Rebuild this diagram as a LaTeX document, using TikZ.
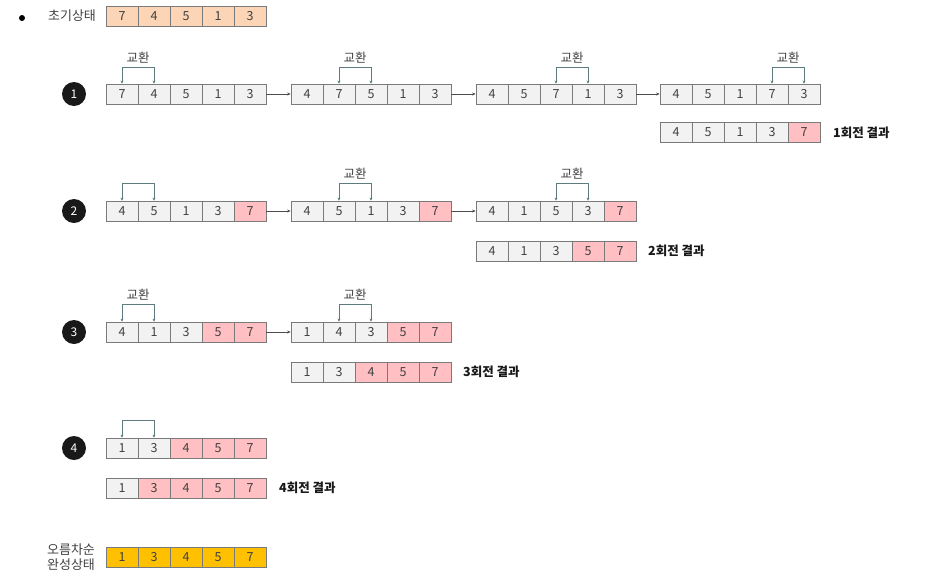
\documentclass[tikz,border=0pt]{standalone}
\usepackage{fontspec}
\setmainfont{Noto Sans CJK KR}
\usetikzlibrary{arrows.meta,calc}
\definecolor{cg}{HTML}{F2F2F2}
\definecolor{cp}{HTML}{FFBFC3}
\definecolor{co}{HTML}{FBD5B5}
\definecolor{cy}{HTML}{FFC000}
\definecolor{cline}{HTML}{7A7A7A}
\definecolor{cswap}{HTML}{5E7C80}
\definecolor{ctext}{HTML}{404040}
\tikzset{
  cell/.style={draw=cline, line width=0.8pt, minimum width=32pt, minimum height=20pt, inner sep=0pt, text=ctext, font=\fontsize{12.5}{14}\selectfont},
  swapline/.style={draw=cswap, line width=0.8pt, {Stealth[length=3pt,width=3pt]}-{Stealth[length=3pt,width=3pt]}},
  swaplabel/.style={text=ctext, font=\fontsize{12.5}{14}\selectfont, inner sep=0pt},
  flow/.style={draw=black!70, line width=0.6pt, -{Stealth[length=3.5pt,width=3pt]}},
  stepnum/.style={circle, fill=black!90, text=white, minimum size=24pt, inner sep=0pt, font=\fontsize{12}{14}\selectfont},
  reslabel/.style={anchor=west, inner sep=0pt, text=black!90, font=\fontsize{12.5}{14}\selectfont\bfseries},
  plainlabel/.style={inner sep=0pt, text=ctext, font=\fontsize{13}{15}\selectfont}
}
\newcommand\mkarr[4]{%
  \foreach \v/\c [count=\i] in {#4} {%
    \node[cell, fill=\c] (#1-\i) at ({#2+16+32*(\i-1)},{#3+10}) {\v};}}
\newcommand\mkswap[4]{% array, i, j, rise
  \draw[swapline] (#1-#2.north) -- ++(0,-#4) -| (#1-#3.north);}
\newcommand\mkswaplab[4]{% array, i, j, rise
  \draw[swapline] (#1-#2.north) -- ++(0,-#4) -| (#1-#3.north);
  \node[swaplabel] (#1-lab) at ($(#1-#2.north)!0.5!(#1-#3.north)+(0,-#4-10)$) {교환};}
\begin{document}
\begin{tikzpicture}[x=1pt,y=-1pt]
\useasboundingbox (0,0) rectangle (942,584);
% initial
\node[circle, fill=black, inner sep=0pt, minimum size=6pt] (bullet) at (22,18) {};
\node[plainlabel] (initlab) at (72,16) {초기상태};
\mkarr{ini}{106}{6}{7/co,4/co,5/co,1/co,3/co}
% row 1
\node[stepnum] (n1) at (74,94) {1};
\mkarr{a1}{106}{84}{7/cg,4/cg,5/cg,1/cg,3/cg}
\mkarr{b1}{291}{84}{4/cg,7/cg,5/cg,1/cg,3/cg}
\mkarr{c1}{476}{84}{4/cg,5/cg,7/cg,1/cg,3/cg}
\mkarr{d1}{660}{84}{4/cg,5/cg,1/cg,7/cg,3/cg}
\mkarr{r1}{660}{122}{4/cg,5/cg,1/cg,3/cg,7/cp}
\mkswaplab{a1}{1}{2}{16}
\mkswaplab{b1}{2}{3}{16}
\mkswaplab{c1}{3}{4}{16}
\mkswaplab{d1}{4}{5}{16}
\draw[flow] (a1-5.east) -- (b1-1.west);
\draw[flow] (b1-5.east) -- (c1-1.west);
\draw[flow] (c1-5.east) -- (d1-1.west);
\node[reslabel] (l1) at (833,133) {1회전 결과};
% row 2
\node[stepnum] (n2) at (74,211) {2};
\mkarr{a2}{106}{201}{4/cg,5/cg,1/cg,3/cg,7/cp}
\mkarr{b2}{291}{201}{4/cg,5/cg,1/cg,3/cg,7/cp}
\mkarr{c2}{476}{201}{4/cg,1/cg,5/cg,3/cg,7/cp}
\mkarr{r2}{476}{241}{4/cg,1/cg,3/cg,5/cp,7/cp}
\mkswap{a2}{1}{2}{17}
\mkswaplab{b2}{2}{3}{17}
\mkswaplab{c2}{3}{4}{17}
\draw[flow] (a2-5.east) -- (b2-1.west);
\draw[flow] (b2-5.east) -- (c2-1.west);
\node[reslabel] (l2) at (648,251) {2회전 결과};
% row 3
\node[stepnum] (n3) at (74,332) {3};
\mkarr{a3}{106}{322}{4/cg,1/cg,3/cg,5/cp,7/cp}
\mkarr{b3}{291}{322}{1/cg,4/cg,3/cg,5/cp,7/cp}
\mkarr{r3}{291}{362}{1/cg,3/cg,4/cp,5/cp,7/cp}
\mkswaplab{a3}{1}{2}{17}
\mkswaplab{b3}{2}{3}{17}
\draw[flow] (a3-5.east) -- (b3-1.west);
\node[reslabel] (l3) at (463,372) {3회전 결과};
% row 4
\node[stepnum] (n4) at (74,448) {4};
\mkarr{a4}{106}{438}{1/cg,3/cg,4/cp,5/cp,7/cp}
\mkarr{r4}{106}{478}{1/cg,3/cp,4/cp,5/cp,7/cp}
\mkswap{a4}{1}{2}{17}
\node[reslabel] (l4) at (279,488) {4회전 결과};
% final
\node[plainlabel, align=center] (finlab) at (71,557) {오름차순\\완성상태};
\mkarr{fin}{106}{547}{1/cy,3/cy,4/cy,5/cy,7/cy}
\end{tikzpicture}
\end{document}
